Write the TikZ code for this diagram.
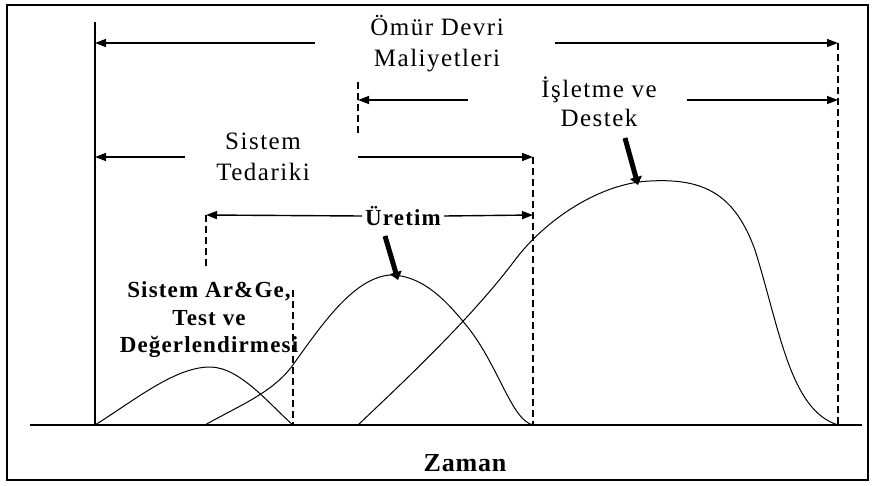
\documentclass[tikz,border=0pt]{standalone}
\usepackage{fontspec}
\setmainfont{Liberation Serif}
\newfontfamily\lblfont[LetterSpace=6]{Liberation Serif}
\newfontfamily\blblfont[LetterSpace=5]{Liberation Serif}
\newfontfamily\zamanfont[LetterSpace=3]{Liberation Serif}
\usetikzlibrary{arrows.meta}
\begin{document}
\begin{tikzpicture}[x=1pt,y=-1pt,
  thinarrow/.style={line width=1.4pt,-{Triangle[length=11pt,width=8pt]}},
  guide/.style={line width=1.3pt,dash pattern=on 7pt off 4pt},
  costcurve/.style={line width=1pt},
  fatarrow/.style={line width=5pt,-{Triangle[length=8pt,width=12pt]}},
  lbl/.style={font=\lblfont\fontsize{25}{31}\selectfont,align=center,inner sep=0pt},
  blbl/.style={font=\blblfont\bfseries\fontsize{23}{27.5}\selectfont,align=center,inner sep=0pt}]
\useasboundingbox (0,0) rectangle (873,485);
\draw[line width=1.6pt] (7,5) rectangle (868,480);
% axes
\coordinate (ytop) at (95,22);
\coordinate (orig) at (95,425);
\coordinate (bl) at (30,425);
\coordinate (br) at (862,425);
\draw[line width=1.4pt] (bl) -- (br);
\draw[line width=1.4pt] (orig) -- (ytop);
% guide coordinates
\coordinate (g1t) at (206,215); \coordinate (g1b) at (206,268);
\coordinate (g2t) at (293,290); \coordinate (g2b) at (293,425);
\coordinate (g3t) at (358,82);  \coordinate (g3b) at (358,135);
\coordinate (g4t) at (533,157); \coordinate (g4b) at (533,425);
\coordinate (g5t) at (838,43);  \coordinate (g5b) at (838,425);
\draw[guide] (g1t) -- (g1b);
\draw[guide] (g2t) -- (g2b);
\draw[guide] (g3t) -- (g3b);
\draw[guide] (g4t) -- (g4b);
\draw[guide] (g5t) -- (g5b);
% labels
\node[lbl] (omur) at (437,44) {Ömür Devri\\Maliyetleri};
\node[lbl,font=\lblfont\fontsize{25}{29}\selectfont] (islet) at (599,102) {İşletme ve\\Destek};
\node[lbl] (tedarik) at (263,157) {Sistem\\Tedariki};
\node[blbl,inner sep=3pt] (uretim) at (403,216) {Üretim};
\node[blbl] (arge) at (209,320) {Sistem Ar\&Ge,\\Test ve\\Değerlendirmesi};
\node[font=\zamanfont\bfseries\fontsize{26}{30}\selectfont,inner sep=0pt] (zaman) at (465,463) {Zaman};
% dimension arrows
\coordinate (a1s) at (315,43);  \coordinate (a2s) at (555,43);
\coordinate (a3s) at (468,100); \coordinate (a4s) at (687,100);
\coordinate (a5s) at (185,157); \coordinate (a6s) at (358,157);
\coordinate (r1) at (95,43);  \coordinate (r2) at (838,43);
\coordinate (r3) at (358,100); \coordinate (r4) at (838,100);
\coordinate (r5) at (95,157); \coordinate (r6) at (533,157);
\coordinate (r7) at (206,215); \coordinate (r8) at (533,215);
\draw[thinarrow] (a1s) -- (r1);
\draw[thinarrow] (a2s) -- (r2);
\draw[thinarrow] (a3s) -- (r3);
\draw[thinarrow] (a4s) -- (r4);
\draw[thinarrow] (a5s) -- (r5);
\draw[thinarrow] (a6s) -- (r6);
\draw[thinarrow] (uretim.west) -- (r7);
\draw[thinarrow] (uretim.east) -- (r8);
% curves
\draw[costcurve] (orig) .. controls (135,400) and (175,367) .. (210,367)
  .. controls (240,367) and (270,405) .. (g2b);
\draw[costcurve] (205,425) .. controls (240,405) and (275,392) .. (295,362)
  .. controls (325,320) and (355,278) .. (390,275)
  .. controls (425,275) and (450,305) .. (470,330)
  .. controls (500,370) and (512,420) .. (g4b);
\draw[costcurve] (358,425) .. controls (400,385) and (470,320) .. (515,260)
  .. controls (545,220) and (600,183) .. (650,181)
  .. controls (705,178) and (735,195) .. (755,250)
  .. controls (780,330) and (790,410) .. (g5b);
% fat arrows
\coordinate (f1s) at (385,236); \coordinate (f1e) at (398,280);
\coordinate (f2s) at (625,138); \coordinate (f2e) at (638,185);
\draw[fatarrow] (f1s) -- (f1e);
\draw[fatarrow] (f2s) -- (f2e);
\end{tikzpicture}
\end{document}
